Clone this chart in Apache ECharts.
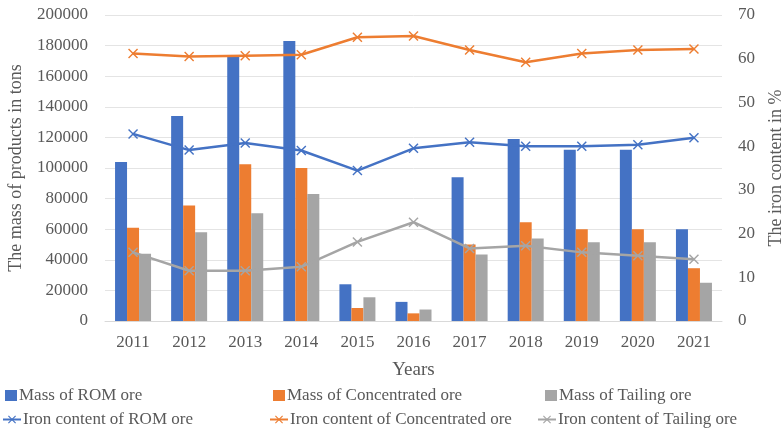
<!DOCTYPE html>
<html>
<head>
    <meta charset="utf-8">
    <title>ECharts</title>
    <script src="https://cdn.jsdelivr.net/npm/echarts@6/dist/echarts.min.js"></script>
</head>
<body>
<div id="main"></div>
<style type="text/css">
    html, body {
        height: 100%;
        margin: 0px;
        padding: 0px;
        background: #fff;
    }
    #main {
        width: 783px;
        height: 430px;
    }
</style>

<script type="text/javascript">
    // 数据
    var years = ['2011', '2012', '2013', '2014', '2015', '2016', '2017', '2018', '2019', '2020', '2021'];
    var massROM = [104000, 134000, 173000, 183000, 24000, 12500, 94000, 119000, 112000, 112000, 60000];
    var massConc = [61000, 75500, 102500, 100000, 8500, 5000, 50000, 64500, 60000, 60000, 34500];
    var massTail = [44000, 58000, 70500, 83000, 15500, 7500, 43500, 54000, 51500, 51500, 25000];
    var ironROM = [42.8, 39.1, 40.7, 39.0, 34.4, 39.5, 40.9, 40.0, 40.0, 40.3, 41.9];
    var ironConc = [61.2, 60.5, 60.7, 60.9, 64.9, 65.2, 62.0, 59.2, 61.2, 62.0, 62.2];
    var ironTail = [15.7, 11.5, 11.5, 12.4, 18.1, 22.6, 16.6, 17.2, 15.7, 14.9, 14.1];

    var font = 'Liberation Serif';
    var txt = '#595959';
    var xMark = 'path://M0,1L1,0L5,4L9,0L10,1L6,5L10,9L9,10L5,6L1,10L0,9L4,5Z';

    var myChart = echarts.init(document.getElementById('main'));

    function bar(name, data, color) {
        return {
            name: name,
            type: 'bar',
            data: data,
            barWidth: 12,
            barGap: '0%',
            itemStyle: {color: color}
        };
    }

    function line(name, data, color) {
        return {
            name: name,
            type: 'line',
            yAxisIndex: 1,
            data: data,
            symbol: xMark,
            symbolSize: 10,
            lineStyle: {color: color, width: 2.5},
            itemStyle: {color: color},
            z: 5
        };
    }

    // 图例：每项单独放，保证列对齐
    function leg(name, left, top, isLine) {
        return {
            data: [name],
            left: left,
            top: top,
            icon: isLine ? undefined : 'rect',
            itemWidth: isLine ? 18 : 12,
            itemHeight: isLine ? 10 : 11,
            textStyle: {fontFamily: font, fontSize: 17, color: txt, padding: [0, 0, 0, -3]}
        };
    }

    var option = {
        backgroundColor: '#fff',
        animation: false,
        grid: {left: 105, right: 61, top: 15, bottom: 109, outerBoundsMode: 'none'},
        legend: [
            leg('Mass of ROM ore', 0, 382),
            leg('Mass of Concentrated ore', 268, 382),
            leg('Mass of Tailing ore', 540, 382),
            leg('Iron content of ROM ore', -3, 406, true),
            leg('Iron content of Concentrated ore', 264, 406, true),
            leg('Iron content of Tailing ore', 532, 406, true)
        ],
        xAxis: {
            type: 'category',
            data: years,
            name: 'Years',
            nameLocation: 'middle',
            nameGap: 40,
            nameTextStyle: {fontFamily: font, fontSize: 19, color: txt},
            axisLine: {lineStyle: {color: '#d9d9d9'}},
            axisTick: {show: false},
            axisLabel: {fontFamily: font, fontSize: 17, color: txt, margin: 13}
        },
        yAxis: [
            {
                type: 'value',
                min: 0,
                max: 200000,
                interval: 20000,
                name: 'The mass of products in tons',
                nameLocation: 'middle',
                nameGap: 80,
                nameTextStyle: {fontFamily: font, fontSize: 18, color: txt},
                axisLine: {show: false},
                axisTick: {show: false},
                axisLabel: {
                    fontFamily: font, fontSize: 17, color: txt, margin: 17,
                    formatter: function (v) { return String(v); }
                },
                splitLine: {lineStyle: {color: '#e4e4e4'}}
            },
            {
                type: 'value',
                min: 0,
                max: 70,
                interval: 10,
                name: 'The iron content in %',
                nameLocation: 'middle',
                nameGap: 45,
                nameTextStyle: {fontFamily: font, fontSize: 18, color: txt},
                axisLine: {show: false},
                axisTick: {show: false},
                axisLabel: {fontFamily: font, fontSize: 17, color: txt, margin: 16},
                splitLine: {show: false}
            }
        ],
        series: [
            bar('Mass of ROM ore', massROM, '#4472C4'),
            bar('Mass of Concentrated ore', massConc, '#ED7D31'),
            bar('Mass of Tailing ore', massTail, '#A5A5A5'),
            line('Iron content of ROM ore', ironROM, '#4472C4'),
            line('Iron content of Concentrated ore', ironConc, '#ED7D31'),
            line('Iron content of Tailing ore', ironTail, '#A5A5A5')
        ]
    };

    myChart.setOption(option);
</script>
</body>
</html>
